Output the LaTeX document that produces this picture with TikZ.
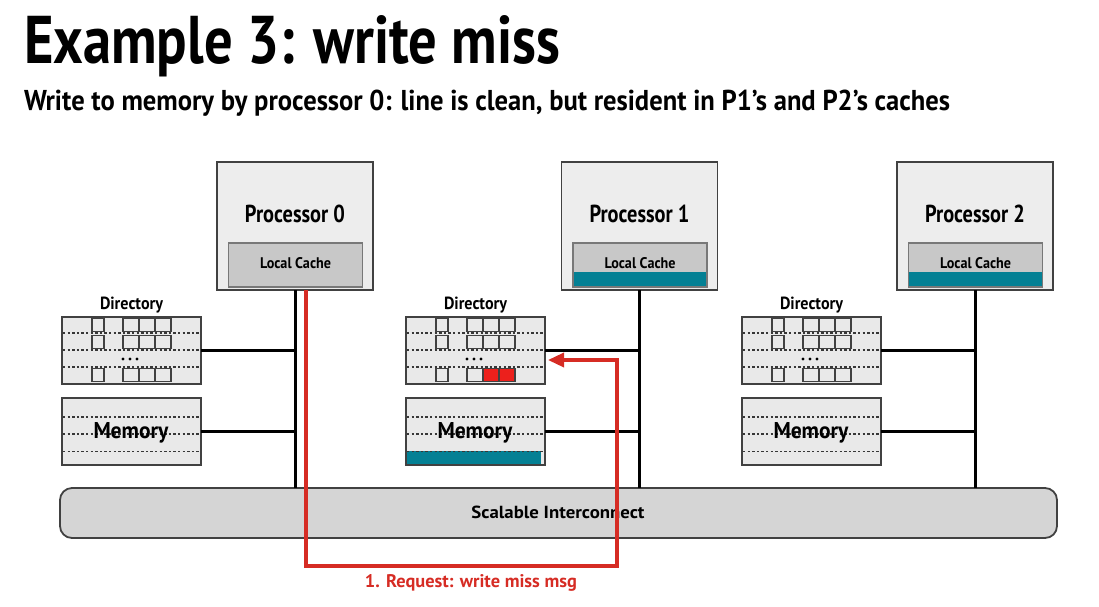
\documentclass[tikz,border=0pt]{standalone}
\usepackage{fontspec}
\setmainfont{PT Sans}
\usepackage{graphicx}
\usetikzlibrary{arrows.meta}

\definecolor{boxline}{RGB}{65,65,65}
\definecolor{procfill}{RGB}{237,237,237}
\definecolor{cachefill}{RGB}{200,200,200}
\definecolor{cacheline}{RGB}{120,120,120}
\definecolor{dirfill}{RGB}{233,233,233}
\definecolor{icfill}{RGB}{213,213,213}
\definecolor{dashgray}{RGB}{55,55,55}
\definecolor{reqred}{RGB}{214,44,36}
\definecolor{slotred}{RGB}{236,32,28}
\definecolor{cacheteal}{RGB}{4,128,148}

% bold text squeezed into a box of given width and height (in pt)
\newcommand{\sizedtext}[3]{\resizebox{#1pt}{#2pt}{\bfseries #3}}

\begin{document}
\begin{tikzpicture}[x=1pt,y=-1pt,
  procbox/.style={draw=boxline, fill=procfill, line width=1.8pt, outer sep=0pt,
    inner sep=0pt, minimum width=156pt, minimum height=128pt},
  cachebox/.style={draw=cacheline, fill=cachefill, line width=1.6pt, outer sep=0pt,
    inner sep=0pt, minimum width=134pt, minimum height=44pt},
  membox/.style={draw=boxline, fill=dirfill, line width=1.8pt, outer sep=0pt,
    inner sep=0pt, minimum width=139pt, minimum height=67pt, anchor=north west},
  icbox/.style={draw=boxline, fill=icfill, line width=1.8pt, outer sep=0pt,
    inner sep=0pt, minimum width=997pt, minimum height=50pt, rounded corners=12pt},
  txt/.style={inner sep=0pt, outer sep=0pt, anchor=base},
  bus/.style={line width=3pt, black},
  rowline/.style={draw=dashgray, line width=1.4pt, dash pattern=on 2.4pt off 2.2pt},
  slot/.style={draw=boxline, fill=dirfill, line width=1.7pt},
  req/.style={draw=reqred, line width=3.4pt, -{Triangle[length=16pt,width=14pt]}}
]
\useasboundingbox (0,0) rectangle (1099,606);

% headings
\node[txt, anchor=base west] (title) at (24,63) {\sizedtext{536}{48}{Example 3: write miss}};
\node[txt, anchor=base west] (subtitle) at (24,110)
  {\sizedtext{926}{20.5}{Write to memory by processor 0: line is clean, but resident in P1’s and P2’s caches}};

% interconnect
\node[icbox] (ic) at (558.5,513) {};
\node[txt] (iclabel) at (558,518) {\sizedtext{173}{12.5}{Scalable Interconnect}};

% processors with their caches
\foreach \n/\cx in {0/295, 1/639.5, 2/975} {
  \node[procbox] (p\n) at (\cx,226) {};
  \node[cachebox] (c\n) at (\cx+0.5,265) {};
  \node[txt] (pl\n) at (\cx,222) {\sizedtext{100}{17.5}{Processor \n}};
  \draw[bus] (p\n.south) -- (p\n.south |- ic.north);
}
% line held in the caches of P1 and P2
\foreach \n in {1,2}
  \fill[cacheteal] ([shift={(0.8,-0.8)}]c\n.south west) rectangle ([shift={(-0.8,-15)}]c\n.south east);
\foreach \n/\cx in {0/295, 1/639.5, 2/975}
  \node[txt] (cl\n) at (\cx+0.5,268) {\sizedtext{71}{11}{Local Cache}};

% directories and memories
\foreach \n/\lx in {1/62, 2/406, 3/742} {
  \node[membox] (d\n) at (\lx,317) {};
  \node[membox] (m\n) at (\lx,398) {};
}
% memory block held by node 1
\fill[cacheteal] ([shift={(0.9,-0.9)}]m2.south west) rectangle ([shift={(-4,-14)}]m2.south east);

\foreach \n/\lx in {1/62, 2/406, 3/742} {
  \foreach \ry in {16,33,50}
    \draw[rowline] ([shift={(1,\ry)}]d\n.north west) -- ([shift={(-1,\ry)}]d\n.north east);
  \foreach \ry in {19,36,53.5}
    \draw[rowline] ([shift={(1,\ry)}]m\n.north west) -- ([shift={(-1,\ry)}]m\n.north east);
  \foreach \t in {1.5,18.5,51.5} {
    \draw[slot] ([shift={(30,\t)}]d\n.north west) rectangle ([shift={(42,\t+13)}]d\n.north west);
    \foreach \sx in {61,77,93}
      \draw[slot] ([shift={(\sx,\t)}]d\n.north west) rectangle ([shift={(\sx+16,\t+13)}]d\n.north west);
  }
  \foreach \dx in {61,68,75}
    \fill[black] ([shift={(\dx,42)}]d\n.north west) circle (1.7pt);
  \node[txt] (dl\n) at (\lx+69.5,309) {\sizedtext{63}{12.5}{Directory}};
  \node[txt] (ml\n) at (\lx+69,438) {\sizedtext{75}{16}{Memory}};
}
% directory entry of the requested line: sharers P1 and P2
\foreach \sx in {77,93}
  \draw[slot, fill=slotred] ([shift={(\sx,51.5)}]d2.north west) rectangle ([shift={(\sx+16,64.5)}]d2.north west);

% links from directories and memories to the node bus
\foreach \n/\p in {1/0, 2/1, 3/2} {
  \draw[bus] (d\n.east) -- (d\n.east -| p\p.south);
  \draw[bus] (m\n.east) -- (m\n.east -| p\p.south);
}

% request message from processor 0 to the home directory
\coordinate (rqturn) at (617,566);
\coordinate (rqtip) at (548,360);
\draw[req] ([xshift=11pt]p0.south) |- (rqturn) |- (rqtip);
\node[txt, text=reqred] (rqlabel) at (471,587) {\sizedtext{212}{13}{1. Request: write miss msg}};
\end{tikzpicture}
\end{document}
